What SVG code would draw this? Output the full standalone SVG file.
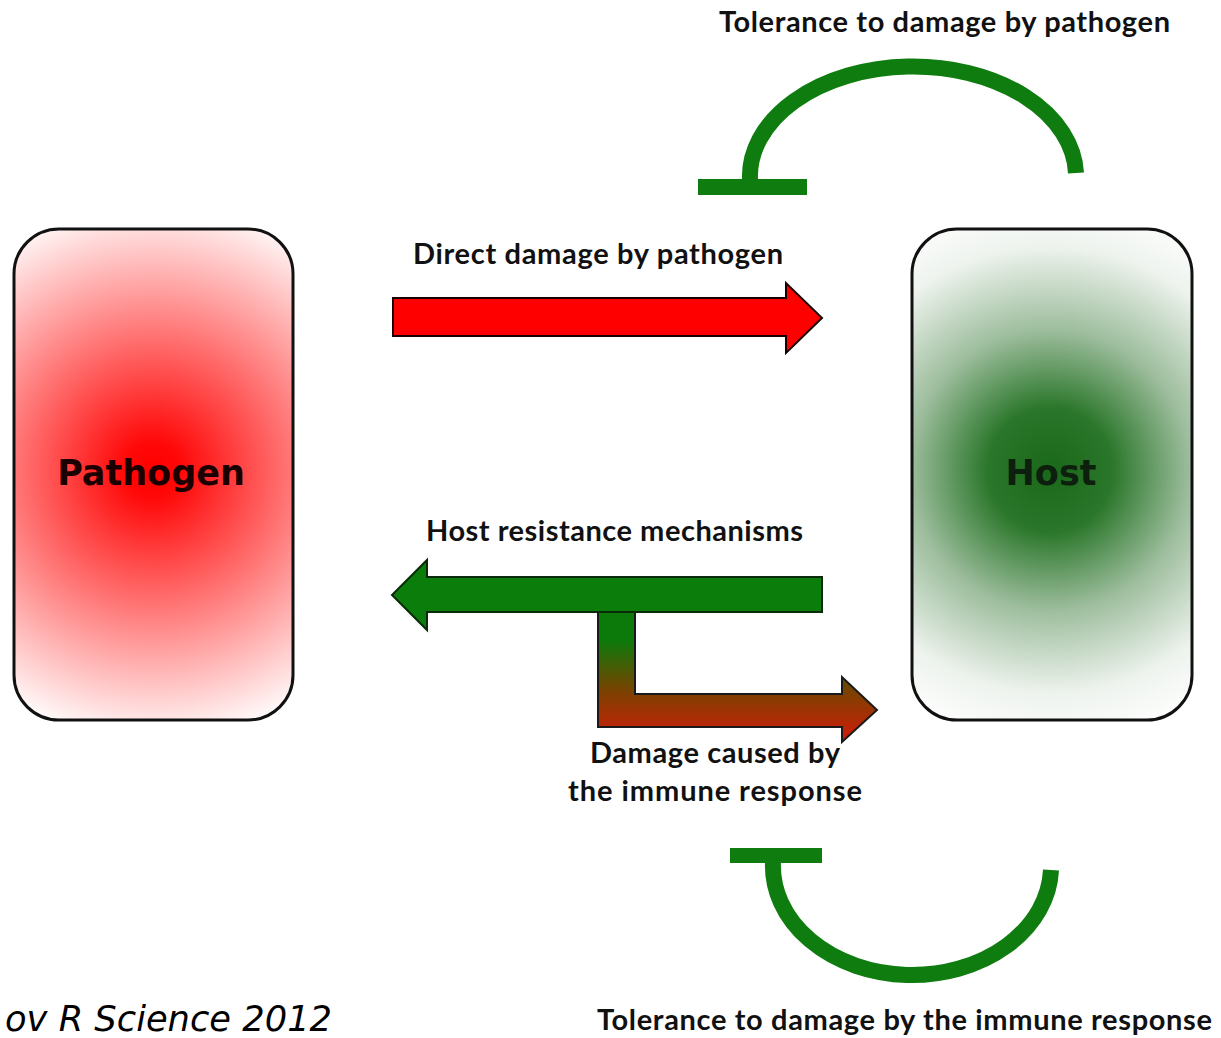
<svg xmlns="http://www.w3.org/2000/svg" width="1221" height="1038" viewBox="0 0 1221 1038">
<style>
.box{stroke:#111;stroke-width:3}
.title{font-family:"DejaVu Sans",Verdana,sans-serif;font-weight:bold;font-size:35px;text-anchor:middle}
.lbl{font-family:Lato,"Open Sans",sans-serif;font-weight:bold;font-size:29px;fill:#111}
.tol{fill:none;stroke:#0e7c0e;stroke-width:16}
.bar{fill:#0e7c0e}
.cite{font-family:"DejaVu Sans",Verdana,sans-serif;font-style:italic;font-size:36px;fill:#000}
</style>
<defs>
<radialGradient id="gRed" gradientUnits="userSpaceOnUse" cx="153" cy="470" r="275">
<stop offset="0" stop-color="#ff0000"/>
<stop offset="0.1" stop-color="#ff0808"/>
<stop offset="1" stop-color="#ffffff"/>
</radialGradient>
<radialGradient id="gGreen" gradientUnits="userSpaceOnUse" cx="1050" cy="470" r="280">
<stop offset="0" stop-color="#1a681a"/>
<stop offset="0.22" stop-color="#2a762a"/>
<stop offset="0.5" stop-color="#9dbd9d"/>
<stop offset="0.8" stop-color="#eef3ee"/>
<stop offset="1" stop-color="#ffffff"/>
</radialGradient>
<linearGradient id="gBent" gradientUnits="userSpaceOnUse" x1="0" y1="640" x2="0" y2="742">
<stop offset="0" stop-color="#0b7a0b"/>
<stop offset="0.5" stop-color="#7a4200"/>
<stop offset="1" stop-color="#d41a0a"/>
</linearGradient>
</defs>

<g id="pathogen">
<rect class="box" x="14" y="229" width="279" height="491" rx="45" fill="url(#gRed)"/>
<text class="title" x="151" y="485" fill="#1a0000">Pathogen</text>
</g>

<g id="host">
<rect class="box" x="912" y="229" width="280" height="491" rx="45" fill="url(#gGreen)"/>
<text class="title" x="1051" y="485" fill="#0d1f0d">Host</text>
</g>

<g id="connectors">
<path id="direct-damage" d="M393,298 L786,298 L786,283 L822,318 L786,353 L786,336 L393,336 Z" fill="#ff0000" stroke="#1a0000" stroke-width="2"/>
<path id="immune-damage" d="M598,612 L635,612 L635,694 L842,694 L842,677 L877,710 L842,742 L842,727 L598,727 Z" fill="url(#gBent)" stroke="#1a1a1a" stroke-width="2"/>
<path id="resistance" d="M822,577 L822,612 L427,612 L427,630 L392,595 L427,560 L427,577 Z" fill="#0b7d0b" stroke="#0a2a0a" stroke-width="2"/>
<g id="tolerance-pathogen">
<path class="tol" d="M750,180 A163,110 0 0 1 1076,173"/>
<rect class="bar" x="698" y="179" width="109" height="16"/>
</g>
<g id="tolerance-immune">
<path class="tol" d="M773,862 A139,109 0 0 0 1051,870"/>
<rect class="bar" x="730" y="848" width="92" height="15"/>
</g>
</g>

<g id="labels">
<text class="lbl" x="719" y="32" textLength="451">Tolerance to damage by pathogen</text>
<text class="lbl" x="413" y="264" textLength="370">Direct damage by pathogen</text>
<text class="lbl" x="426" y="541" textLength="377">Host resistance mechanisms</text>
<text class="lbl" x="590" y="763" textLength="250">Damage caused by</text>
<text class="lbl" x="568" y="801" textLength="294">the immune response</text>
<text class="lbl" x="597" y="1030" textLength="615">Tolerance to damage by the immune response</text>
<text class="cite" x="5" y="1031" textLength="327" lengthAdjust="spacingAndGlyphs">ov R Science 2012</text>
</g>
</svg>
